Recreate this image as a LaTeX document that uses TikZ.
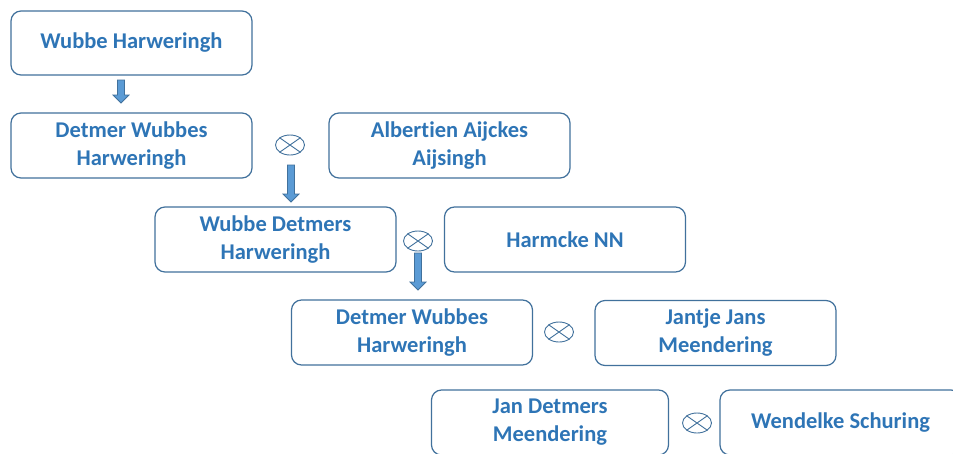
\documentclass[tikz,border=0pt]{standalone}
\usepackage{fontspec}
\setmainfont[Ligatures=NoCommon]{Carlito}
\usetikzlibrary{calc,shapes.geometric}
\definecolor{bord}{HTML}{41719C}
\definecolor{txt}{HTML}{2E75B6}
\definecolor{afill}{HTML}{5B9BD5}
\tikzset{
  person/.style={draw=bord, line width=1.2pt, rounded corners=10pt,
    minimum width=241pt, minimum height=65pt, text=txt,
    font=\fontsize{22.5}{28}\selectfont\bfseries, align=center, inner sep=0pt},
  marriage/.style={draw=bord, line width=0.9pt, ellipse, minimum width=29pt,
    minimum height=20pt, inner sep=0pt},
  crossline/.style={draw=bord, line width=0.9pt},
  barrow/.style={draw=bord, fill=afill, line width=0.8pt, line join=miter}
}
\newcommand\blockarr[2]{%
  \draw[barrow] let \p1=(#1), \p2=(#2) in
   (\x1-3.5pt,\y1) -- (\x1+3.5pt,\y1) -- (\x1+3.5pt,\y2+8pt) -- (\x1+8pt,\y2+8pt)
   -- (\x1,\y2) -- (\x1-8pt,\y2+8pt) -- (\x1-3.5pt,\y2+8pt) -- cycle;}
\newcommand\marr[2]{%
  \node[marriage] (#1) at #2 {};
  \draw[crossline] (#1.north west) -- (#1.south east);
  \draw[crossline] (#1.north east) -- (#1.south west);}
\begin{document}
\begin{tikzpicture}[x=1pt,y=-1pt]
\clip (0,0) rectangle (953,453);
\fill[white] (0,0) rectangle (953,453);
\node[person, minimum height=64pt] (b1) at (131.5,43) {Wubbe Harweringh};
\node[person] (b2) at (131.5,145.5) {Detmer Wubbes\\Harweringh};
\node[person] (b3) at (449.5,145.5) {Albertien Aijckes\\Aijsingh};
\node[person] (b4) at (275.5,239.5) {Wubbe Detmers\\Harweringh};
\node[person] (b5) at (565,239.5) {Harmcke NN};
\node[person] (b6) at (412,332.5) {Detmer Wubbes\\Harweringh};
\node[person] (b7) at (715.5,333) {Jantje Jans\\Meendering};
\node[person, minimum width=237pt] (b8) at (550,422.5) {Jan Detmers\\Meendering};
\node[person] (b9) at (840.5,422.5) {Wendelke Schuring};
\marr{o1}{(290,145)}
\marr{o2}{(418,241)}
\marr{o3}{(559,332)}
\marr{o4}{(697,423)}
\coordinate (a1s) at (121,80);
\coordinate (a1e) at (121,103);
\coordinate (a2s) at (291,165);
\coordinate (a2e) at (291,202);
\coordinate (a3s) at (418,253);
\coordinate (a3e) at (418,290);
\blockarr{a1s}{a1e}
\blockarr{a2s}{a2e}
\blockarr{a3s}{a3e}
\end{tikzpicture}
\end{document}
